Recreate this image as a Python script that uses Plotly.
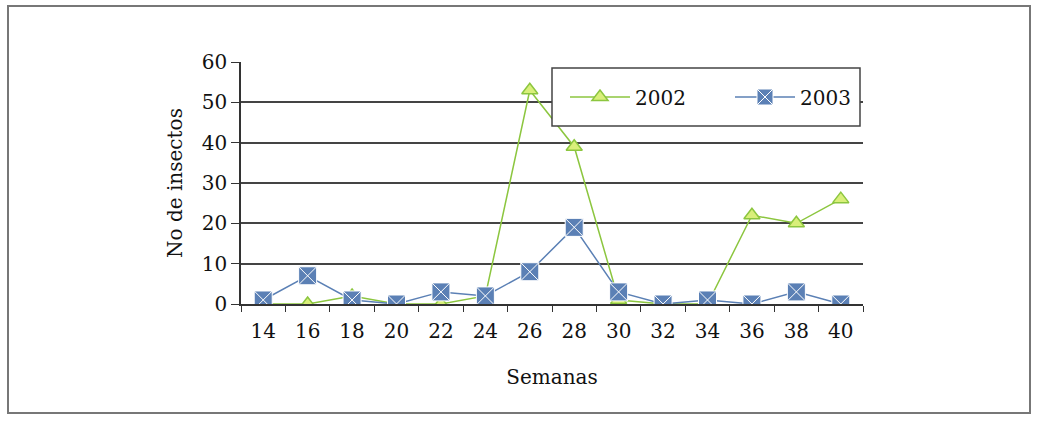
import plotly.graph_objects as go

semanas = ["14", "16", "18", "20", "22", "24", "26", "28", "30", "32", "34", "36", "38", "40"]
insectos_2002 = [0, 0, 2, 0, 0, 2, 53, 39, 1, 0, 0, 22, 20, 26]
insectos_2003 = [1, 7, 1, 0, 3, 2, 8, 19, 3, 0, 1, 0, 3, 0]
y_ticks = [0, 10, 20, 30, 40, 50, 60]

W, H = 1042, 421
L, R, T, B = 241, 863, 62, 304

fig = go.Figure()
fig.add_trace(go.Scatter(
    x=semanas, y=insectos_2002, name="2002", mode="lines+markers",
    line=dict(color="#8cc63f", width=1.5),
    marker=dict(symbol="triangle-up", size=14, color="#d9ef7a",
                line=dict(color="#8cc63f", width=1.5)),
))
fig.add_trace(go.Scatter(
    x=semanas, y=insectos_2003, name="2003", mode="lines+markers",
    line=dict(color="#5b80b5", width=1.5),
    marker=dict(symbol="square-x", size=18, color="#5b80b5",
                line=dict(color="#ffffff", width=1)),
))

def px_x(p):
    return (p - L) / (R - L)

def px_y(p):
    return (B - p) / (B - T)

fig.add_shape(type="rect", xref="paper", yref="paper",
              x0=px_x(8), x1=px_x(1030), y0=px_y(413), y1=px_y(6),
              line=dict(color="#777777", width=2), layer="below")
fig.add_shape(type="rect", xref="paper", yref="paper",
              x0=px_x(552), x1=px_x(860), y0=px_y(126), y1=px_y(68),
              line=dict(color="#444444", width=1.5), fillcolor="white", layer="above")

serif = "DejaVu Serif"
fig.update_layout(
    width=W, height=H,
    margin=dict(l=L, r=W - R, t=T, b=H - B),
    paper_bgcolor="white", plot_bgcolor="white",
    font=dict(family=serif, size=20, color="#111111"),
    showlegend=True,
    legend=dict(orientation="h", x=px_x(565), y=px_y(97), xanchor="left", yanchor="middle",
                bgcolor="rgba(0,0,0,0)", borderwidth=0,
                font=dict(family=serif, size=20), entrywidth=90,
                itemwidth=60),
    xaxis=dict(type="category", range=[-0.5, 13.5], showgrid=False,
               showline=True, linecolor="#333333", linewidth=1.5,
               ticks="outside", tickson="boundaries", ticklen=6, tickcolor="#333333",
               ticklabelstandoff=8,
               title=dict(text="Semanas", font=dict(family=serif, size=20), standoff=28),
               tickfont=dict(family=serif, size=20)),
    yaxis=dict(range=[0, 60], tickvals=y_ticks, showgrid=True, gridcolor="#444444", gridwidth=1.5,
               showline=True, linecolor="#333333", linewidth=1.5, zeroline=False,
               ticks="outside", ticklen=8, tickcolor="#333333",
               title=dict(text="No de insectos", font=dict(family=serif, size=20), standoff=14),
               tickfont=dict(family=serif, size=20)),
)
fig.write_html("out.html")
